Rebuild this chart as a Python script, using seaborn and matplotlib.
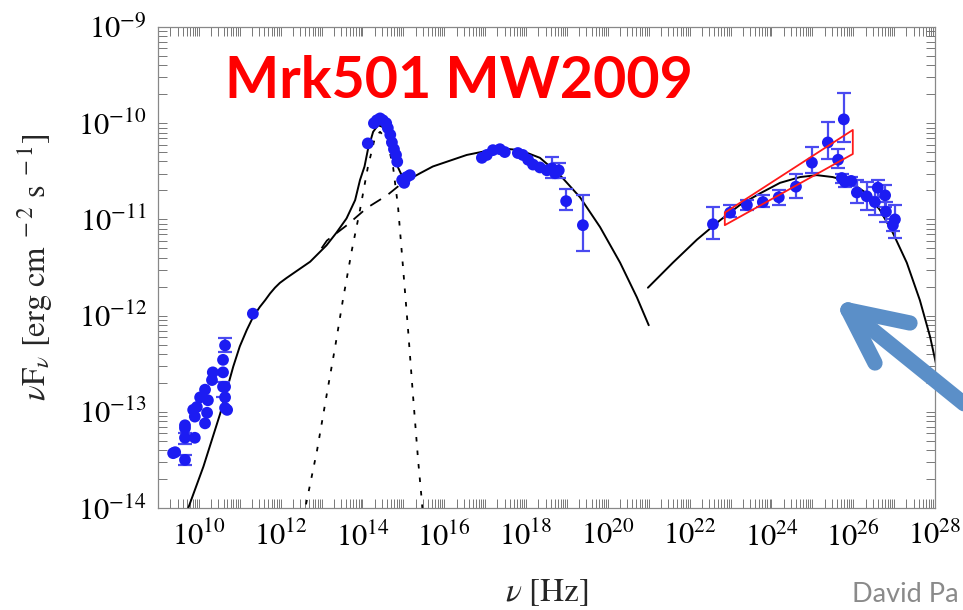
import numpy as np
import pandas as pd
import matplotlib
matplotlib.use("Agg")
import matplotlib.pyplot as plt
import seaborn as sns
from matplotlib.ticker import FixedLocator, FuncFormatter, NullFormatter
from matplotlib.lines import Line2D

# ---------------- data (log10 values) ----------------
radio_lognu = [11.32, 10.64, 10.59, 10.34, 10.59, 10.32, 10.64, 10.15, 10.03, 10.64, 10.22, 9.95, 10.64,
               9.86, 10.20, 9.90, 9.66, 10.15, 9.66, 9.66, 9.90, 9.37, 9.42, 9.66, 10.69, 10.59]
radio_logF = [-11.98, -12.31, -12.46, -12.59, -12.59, -12.67, -12.74, -12.77, -12.85, -12.85, -12.88, -12.95, -12.96,
              -12.98, -13.01, -13.05, -13.14, -13.12, -13.17, -13.27, -13.27, -13.43, -13.42, -13.50, -12.98, -12.74]
radio_err_lognu = [10.64, 10.59, 9.66, 9.66]
radio_err_logF = [-12.31, -12.74, -13.27, -13.50]
radio_err_hi = [-12.23, -12.69, -13.22, -13.45]
radio_err_lo = [-12.38, -12.85, -13.33, -13.55]

opt_lognu = [14.13, 14.28, 14.35, 14.43, 14.50, 14.58, 14.62, 14.68, 14.72, 14.77, 14.82, 14.85, 14.97, 15.02, 15.08, 15.16]
opt_logF = [-10.21, -10.00, -9.97, -9.95, -9.97, -10.00, -10.05, -10.12, -10.20, -10.27, -10.33, -10.40, -10.59, -10.62, -10.56, -10.54]

xray_lognu = [16.92, 17.04, 17.19, 17.36, 17.48, 17.80, 17.92, 18.05, 18.17, 18.34, 18.51, 18.63, 18.71, 18.80, 18.98, 19.39]
xray_logF = [-10.36, -10.33, -10.28, -10.27, -10.30, -10.31, -10.33, -10.38, -10.43, -10.46, -10.49, -10.47, -10.52, -10.49, -10.81, -11.06]
xray_err_lognu = [18.63, 18.80, 18.98, 19.39]
xray_err_logF = [-10.47, -10.49, -10.81, -11.06]
xray_err_hi = [-10.35, -10.41, -10.68, -10.75]
xray_err_lo = [-10.57, -10.57, -10.90, -11.33]

gamma_lognu = [22.57, 22.99, 23.40, 23.79, 24.18, 24.60, 24.99, 25.38, 25.63, 25.77,
               25.72, 25.80, 25.95, 26.09, 26.33, 26.53, 26.60, 26.78, 26.80, 27.02, 26.97]
gamma_logF = [-11.05, -10.93, -10.85, -10.82, -10.77, -10.66, -10.41, -10.20, -10.38, -9.96,
              -10.57, -10.61, -10.60, -10.72, -10.76, -10.82, -10.67, -10.75, -10.92, -11.00, -11.06]
gamma_hi = [-10.87, -10.85, -10.80, -10.75, -10.69, -10.53, -10.25, -9.99, -10.27, -9.69,
            -10.53, -10.57, -10.56, -10.59, -10.61, -10.66, -10.59, -10.64, -10.82, -10.85, -11.00]
gamma_lo = [-11.20, -10.97, -10.90, -10.87, -10.85, -10.78, -10.52, -10.37, -10.47, -10.20,
            -10.62, -10.66, -10.65, -10.83, -10.90, -10.95, -10.77, -10.87, -11.03, -11.19, -11.12]

bowtie_lognu = [22.86, 25.99, 25.99, 22.86, 22.86]
bowtie_logF = [-10.93, -10.07, -10.32, -11.06, -10.93]

sync_lognu = [9.70, 9.74, 10.11, 10.52, 10.84, 11.00, 11.17, 11.33, 11.49, 11.62, 11.74, 11.86, 11.98, 12.14,
              12.31, 12.72, 13.12, 13.36, 13.61, 13.82, 13.94, 14.05, 14.13, 14.26, 14.38, 14.50, 14.62, 14.75,
              14.87, 14.99, 15.11, 15.20, 15.41, 15.72, 16.55, 17.36, 17.85, 18.34, 18.83, 19.32, 19.81, 20.30,
              20.71, 21.00]
sync_logF = [-14.05, -14.0, -13.57, -13.02, -12.53, -12.32, -12.15, -12.01, -11.91, -11.84, -11.77, -11.71,
             -11.66, -11.61, -11.56, -11.44, -11.27, -11.14, -10.99, -10.80, -10.59, -10.45, -10.28, -10.09,
             -10.02, -10.04, -10.10, -10.25, -10.46, -10.57, -10.59, -10.57, -10.52, -10.45, -10.33, -10.26,
             -10.28, -10.36, -10.54, -10.77, -11.08, -11.45, -11.81, -12.10]

jet_lognu = [13.00, 13.13, 13.62, 14.11, 14.60, 14.92, 15.23]
jet_logF = [-11.30, -11.22, -11.06, -10.88, -10.75, -10.64, -10.56]

host_lognu = [12.55, 12.64, 12.89, 13.13, 13.33, 13.52, 13.74, 13.94, 14.13, 14.31, 14.43, 14.60, 14.75,
              14.87, 14.99, 15.11, 15.23, 15.36, 15.45, 15.48]
host_logF = [-14.10, -13.92, -13.40, -12.81, -12.33, -11.84, -11.32, -10.90, -10.46, -10.14, -10.09, -10.17, -10.46,
             -10.87, -11.49, -12.12, -12.80, -13.50, -13.92, -14.10]

ic_lognu = [20.98, 21.59, 22.18, 22.74, 23.23, 23.72, 24.21, 24.70, 25.11, 25.50, 25.92, 26.33, 26.65,
            26.97, 27.31, 27.63, 27.88, 28.05]
ic_logF = [-11.71, -11.45, -11.21, -11.01, -10.85, -10.73, -10.62, -10.56, -10.54, -10.56, -10.61, -10.73, -10.90,
           -11.14, -11.45, -11.84, -12.22, -12.55]

x_decades = list(range(9, 29))      # 10^9 .. 10^28
y_decades = list(range(-14, -8))    # 10^-14 .. 10^-9

title_text = "Mrk501 MW2009"
credit_text = "David Pa"

# ---------------- styling ----------------
sns.set_theme(style="ticks")
plt.rcParams["font.family"] = ["Liberation Serif", "DejaVu Serif"]
plt.rcParams["mathtext.fontset"] = "stix"

BLUE = "#1c1cf2"
EBLUE = "#4a4af0"

W, H = 963, 610
fig = plt.figure(figsize=(W / 100, H / 100), dpi=100)
ax = fig.add_axes([158 / W, 1 - 508 / H, (935 - 158) / W, (508 - 27) / H])
ax.set_xscale("log")
ax.set_yscale("log")


def p(v):
    return 10.0 ** np.asarray(v, dtype=float)


# model curves
sns.lineplot(x=p(host_lognu), y=p(host_logF), sort=False, estimator=None, ax=ax,
             color="black", lw=1.3, linestyle=(0, (2.5, 5)))
sns.lineplot(x=p(jet_lognu), y=p(jet_logF), sort=False, estimator=None, ax=ax,
             color="black", lw=1.3, linestyle=(0, (7, 5)))
sns.lineplot(x=p(sync_lognu), y=p(sync_logF), sort=False, estimator=None, ax=ax,
             color="black", lw=1.4)
sns.lineplot(x=p(ic_lognu), y=p(ic_logF), sort=False, estimator=None, ax=ax,
             color="black", lw=1.4)

# error bars
for ex, ey, eh, el in [(radio_err_lognu, radio_err_logF, radio_err_hi, radio_err_lo),
                       (xray_err_lognu, xray_err_logF, xray_err_hi, xray_err_lo),
                       (gamma_lognu, gamma_logF, gamma_hi, gamma_lo)]:
    yy = p(ey)
    ax.errorbar(p(ex), yy, yerr=[yy - p(el), p(eh) - yy], fmt="none", ecolor=EBLUE,
                elinewidth=1.6, capsize=5, capthick=1.6, zorder=3)

# points
allx = np.concatenate([p(radio_lognu), p(opt_lognu), p(xray_lognu), p(gamma_lognu)])
ally = np.concatenate([p(radio_logF), p(opt_logF), p(xray_logF), p(gamma_logF)])
df = pd.DataFrame({"nu": allx, "nuFnu": ally})
sns.scatterplot(data=df, x="nu", y="nuFnu", ax=ax, color=BLUE, s=72, edgecolor="none", linewidth=0, zorder=4)

# bowtie
sns.lineplot(x=p(bowtie_lognu), y=p(bowtie_logF), sort=False, estimator=None, ax=ax,
             color="#ff1a1a", lw=1.3, zorder=5)

ax.set_xlim(p(x_decades[0]), p(x_decades[-1]))
ax.set_ylim(p(y_decades[0]), p(y_decades[-1]))

# ticks (only inside the visible range)
subs = np.arange(2, 10)
ax.xaxis.set_major_locator(FixedLocator(p(x_decades)))
ax.yaxis.set_major_locator(FixedLocator(p(y_decades)))
ax.xaxis.set_minor_locator(FixedLocator(np.concatenate([subs * p(d) for d in x_decades[:-1]])))
ax.yaxis.set_minor_locator(FixedLocator(np.concatenate([subs * p(d) for d in y_decades[:-1]])))
ax.xaxis.set_minor_formatter(NullFormatter())
ax.yaxis.set_minor_formatter(NullFormatter())


def xfmt(v, pos):
    e = int(round(np.log10(v)))
    return r"$10^{%d}$" % e if e % 2 == 0 else ""


def yfmt(v, pos):
    e = int(round(np.log10(v)))
    return r"$10^{%d}$" % e


ax.xaxis.set_major_formatter(FuncFormatter(xfmt))
ax.yaxis.set_major_formatter(FuncFormatter(yfmt))
ax.tick_params(which="both", direction="in", top=True, right=True, length=6.5, width=0.7, color="#777777")
ax.tick_params(axis="x", which="major", labelsize=22, pad=10, labelcolor="black")
ax.tick_params(axis="y", which="major", labelsize=22, pad=8, labelcolor="black")
for s in ax.spines.values():
    s.set_color("#888888")
    s.set_linewidth(0.9)

ax.set_xlabel(r"$\nu\ [\mathrm{Hz}]$", fontsize=24)
ax.set_ylabel(r"$\nu\mathrm{F}_{\nu}\ [\mathrm{erg\ cm}^{\ -2}\ \mathrm{s}^{\ -1}]$", fontsize=23.5)
ax.xaxis.set_label_coords(0.5, -0.143)
ax.yaxis.set_label_coords(-0.133, 0.5)

# title and credit
fig.text(225 / W, 1 - 98 / H, title_text, color="#ff0000", fontsize=41.3, fontweight="bold",
         family=["Lato", "DejaVu Sans"], ha="left", va="baseline")
fig.text(959 / W, 1 - 602 / H, credit_text, color="#8a8a8a", fontsize=19.5,
         family=["Lato", "DejaVu Sans"], ha="right", va="baseline")

# pointer arrow (annotation decoration, in figure pixels)
tip = (848, 310)
arrow_col = "#5b8fc8"
for end in [(1010, 441), (910, 323), (875, 363)]:
    fig.add_artist(Line2D([tip[0] / W, end[0] / W], [1 - tip[1] / H, 1 - end[1] / H],
                          transform=fig.transFigure, color=arrow_col, lw=11,
                          solid_capstyle="round", zorder=10))

fig.savefig("out.png", dpi=100)
